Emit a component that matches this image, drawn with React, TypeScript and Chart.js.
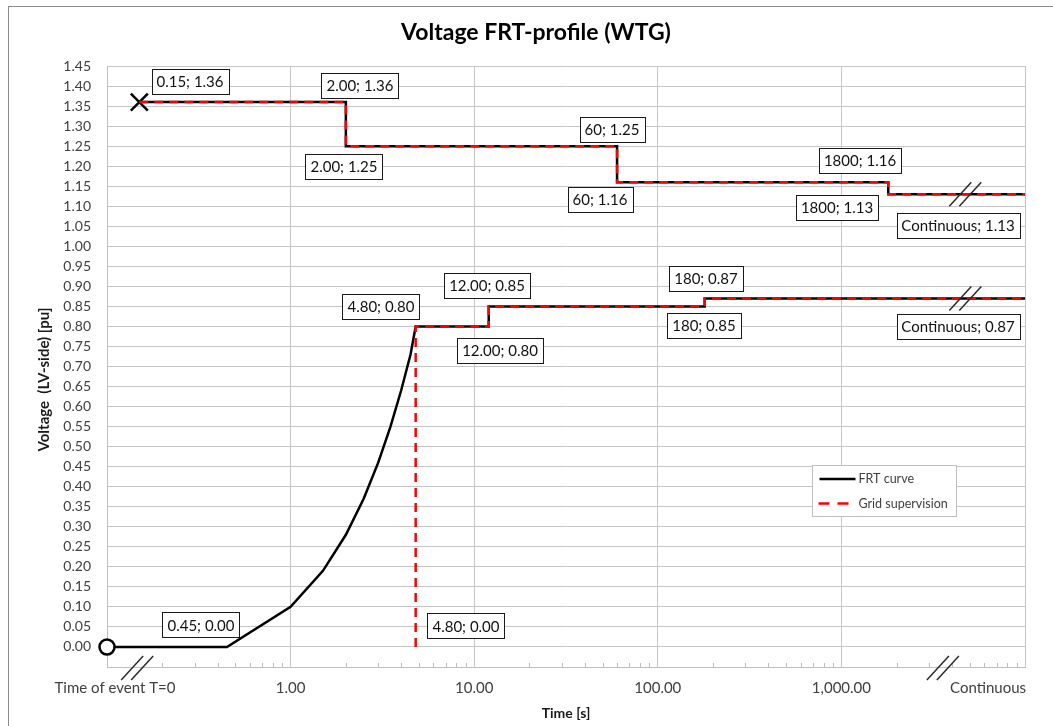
import React, { useEffect, useRef } from "react";
import { Chart, registerables } from "chart.js";

Chart.register(...registerables);

// ---------- text ----------
const chartTitle = "Voltage FRT-profile (WTG)";
const xAxisTitle = "Time [s]";
const yAxisTitle = "Voltage  (LV-side) [pu]";
const seriesNames = ["FRT curve", "Grid supervision"];

// ---------- data ----------
// FRT curve, upper (over-voltage) profile
const upperTimes = [0.15, 2.0, 2.0, 60, 60, 1800, 1800, 10000];
const upperVolts = [1.36, 1.36, 1.25, 1.25, 1.16, 1.16, 1.13, 1.13];

// FRT curve, lower (under-voltage) profile
const lowerTimes = [0.1, 0.45, 1.0, 1.5, 2.0, 2.5, 3.0, 3.5, 4.0, 4.5, 4.8, 12, 12, 180, 180, 10000];
const lowerVolts = [0.0, 0.0, 0.1, 0.19, 0.28, 0.37, 0.46, 0.55, 0.64, 0.73, 0.8, 0.8, 0.85, 0.85, 0.87, 0.87];

// Grid supervision, lower profile
const gridLowerTimes = [4.8, 4.8, 12, 12, 180, 180, 10000];
const gridLowerVolts = [0.0, 0.8, 0.8, 0.85, 0.85, 0.87, 0.87];

// Grid supervision, upper profile
const gridUpperTimes = [0.15, 2.0, 2.0, 60, 60, 1800, 1800, 10000];
const gridUpperVolts = [1.36, 1.36, 1.25, 1.25, 1.16, 1.16, 1.13, 1.13];

// axis ticks
const xTickValues = [0.1, 1, 10, 100, 1000, 10000];
const xTickLabels = ["Time of event T=0", "1.00", "10.00", "100.00", "1,000.00", "Continuous"];
const yMin = -0.05;
const yMax = 1.45;
const yStep = 0.05;

// point annotations
const pointLabelTexts = [
  "0.15; 1.36", "2.00; 1.36", "2.00; 1.25", "60; 1.25", "60; 1.16",
  "1800; 1.16", "1800; 1.13", "Continuous; 1.13",
  "4.80; 0.80", "12.00; 0.85", "12.00; 0.80", "180; 0.87", "180; 0.85",
  "Continuous; 0.87", "0.45; 0.00", "4.80; 0.00",
];
const pointLabelTimes = [0.15, 2.0, 2.0, 60, 60, 1800, 1800, 10000, 4.8, 12, 12, 180, 180, 10000, 0.45, 4.8];
const pointLabelVolts = [1.36, 1.36, 1.25, 1.25, 1.16, 1.16, 1.13, 1.13, 0.8, 0.85, 0.8, 0.87, 0.85, 0.87, 0.0, 0.0];

// axis-break marks (time values; volts null = on the time axis)
const breakTimes = [0.146, 3570, 4730, 4730];
const breakVolts = [null, null, 1.13, 0.87];

// ---------- layout / style (not data) ----------
const labelOffsets: [number, number][] = [
  [51, -21], [14, -17], [-2, 20], [-5, -17], [-17, 17],
  [-28, -22], [-51, 13], [-67, 31],
  [-35, -20], [-2, -21], [11, 24], [1, -20], [-1, 19],
  [-67, 28], [-26, -22], [50, -21],
];
const FONT = "Lato, 'Open Sans', sans-serif";
const GRID = "#c6c6c6";
const TEXT = "#404040";

const decorPlugin = {
  id: "decor",
  beforeDraw(chart: any) {
    const ctx = chart.ctx;
    ctx.save();
    ctx.fillStyle = "#ffffff";
    ctx.fillRect(0, 0, chart.width, chart.height);
    ctx.strokeStyle = "#8c8c8c";
    ctx.lineWidth = 1;
    ctx.strokeRect(8.5, 6.5, chart.width + 40, chart.height + 40);
    // chart title
    ctx.fillStyle = "#000000";
    ctx.font = `bold 23px ${FONT}`;
    ctx.textAlign = "center";
    ctx.textBaseline = "middle";
    ctx.fillText(chartTitle, 536, 33);
    ctx.restore();
  },
  afterDatasetsDraw(chart: any) {
    const ctx = chart.ctx;
    const xs = chart.scales.x;
    const ys = chart.scales.y;
    ctx.save();
    ctx.font = `15px ${FONT}`;
    ctx.textAlign = "center";
    ctx.textBaseline = "middle";
    pointLabelTexts.forEach((t, i) => {
      const px = xs.getPixelForValue(pointLabelTimes[i]) + labelOffsets[i][0];
      const py = ys.getPixelForValue(pointLabelVolts[i]) + labelOffsets[i][1];
      const w = Math.round(ctx.measureText(t).width + 10);
      const h = 25;
      const bx = Math.round(px - w / 2) + 0.5;
      const by = Math.round(py - h / 2) + 0.5;
      ctx.fillStyle = "#ffffff";
      ctx.fillRect(bx, by, w, h);
      ctx.strokeStyle = "#1a1a1a";
      ctx.lineWidth = 1;
      ctx.strokeRect(bx, by, w, h);
      ctx.fillStyle = "#111111";
      ctx.fillText(t, Math.round(px), Math.round(py) + 1);
    });
    ctx.restore();
  },
  afterDraw(chart: any) {
    const ctx = chart.ctx;
    const xs = chart.scales.x;
    const ys = chart.scales.y;
    const area = chart.chartArea;
    ctx.save();

    // minor ticks on time axis
    ctx.strokeStyle = "#bfbfbf";
    ctx.lineWidth = 1;
    for (let d = 0; d < xTickValues.length - 1; d++) {
      for (let k = 2; k <= 9; k++) {
        const x = Math.round(xs.getPixelForValue(xTickValues[d] * k)) + 0.5;
        ctx.beginPath();
        ctx.moveTo(x, area.bottom);
        ctx.lineTo(x, area.bottom - 4);
        ctx.stroke();
      }
    }

    // x tick labels
    ctx.fillStyle = TEXT;
    ctx.font = `15px ${FONT}`;
    ctx.textBaseline = "middle";
    xTickValues.forEach((v, i) => {
      const x = xs.getPixelForValue(v);
      const y = area.bottom + 21;
      if (i === 0) {
        ctx.textAlign = "center";
        ctx.fillText(xTickLabels[i], x + 8, y);
      } else if (i === xTickValues.length - 1) {
        ctx.textAlign = "right";
        ctx.fillText(xTickLabels[i], x + 1, y);
      } else {
        ctx.textAlign = "center";
        ctx.fillText(xTickLabels[i], x, y);
      }
    });

    // x axis title
    ctx.fillStyle = "#1a1a1a";
    ctx.font = `bold 14px ${FONT}`;
    ctx.textAlign = "center";
    ctx.fillText(xAxisTitle, (area.left + area.right) / 2, area.bottom + 46);

    // y axis title
    ctx.save();
    ctx.translate(44, (area.top + area.bottom) / 2 + 13);
    ctx.rotate(-Math.PI / 2);
    ctx.font = `bold 15px ${FONT}`;
    ctx.textAlign = "center";
    ctx.textBaseline = "middle";
    ctx.fillText(yAxisTitle, 0, 0);
    ctx.restore();

    // break marks
    ctx.strokeStyle = "#2a2a2a";
    ctx.lineWidth = 1.5;
    breakTimes.forEach((t, i) => {
      const cx = xs.getPixelForValue(t);
      const v = breakVolts[i];
      const cy = v === null ? area.bottom + 1 : ys.getPixelForValue(v);
      [-5, 5].forEach((dx) => {
        ctx.beginPath();
        ctx.moveTo(cx + dx - 11, cy + 12);
        ctx.lineTo(cx + dx + 11, cy - 12);
        ctx.stroke();
      });
    });

    // legend
    const lx = area.left + 705.5;
    const ly = area.top + 399.5;
    ctx.fillStyle = "#ffffff";
    ctx.fillRect(lx, ly, 144, 51);
    ctx.strokeStyle = "#bfbfbf";
    ctx.lineWidth = 1;
    ctx.strokeRect(lx, ly, 144, 51);
    ctx.lineWidth = 2.5;
    ctx.strokeStyle = "#000000";
    ctx.beginPath();
    ctx.moveTo(lx + 7, ly + 13.5);
    ctx.lineTo(lx + 43, ly + 13.5);
    ctx.stroke();
    ctx.strokeStyle = "#ff0000";
    ctx.setLineDash([11, 8]);
    ctx.beginPath();
    ctx.moveTo(lx + 6, ly + 38);
    ctx.lineTo(lx + 43, ly + 38);
    ctx.stroke();
    ctx.setLineDash([]);
    ctx.fillStyle = TEXT;
    ctx.font = `12.5px ${FONT}`;
    ctx.textAlign = "left";
    ctx.textBaseline = "middle";
    ctx.fillText(seriesNames[0], lx + 46, ly + 13);
    ctx.fillText(seriesNames[1], lx + 46, ly + 38);

    ctx.restore();
  },
};

const toPoints = (xs: number[], ys: number[]) => xs.map((x, i) => ({ x, y: ys[i] }));

export default function App() {
  const canvasRef = useRef<HTMLCanvasElement | null>(null);

  useEffect(() => {
    const canvas = canvasRef.current;
    if (!canvas) return;
    const chart = new Chart(canvas, {
      type: "scatter",
      data: {
        datasets: [
          {
            label: seriesNames[0],
            data: toPoints(lowerTimes, lowerVolts),
            showLine: true,
            clip: false,
            borderColor: "#000000",
            borderWidth: 2.5,
            pointRadius: (c: any) => (c.dataIndex === 0 ? 7.5 : 0),
            pointHoverRadius: 0,
            pointStyle: "circle",
            pointBackgroundColor: "#ffffff",
            pointBorderColor: "#000000",
            pointBorderWidth: 2.5,
            order: 2,
          },
          {
            label: seriesNames[0],
            data: toPoints(upperTimes, upperVolts),
            showLine: true,
            clip: false,
            borderColor: "#000000",
            borderWidth: 2.5,
            pointRadius: (c: any) => (c.dataIndex === 0 ? 12 : 0),
            pointHoverRadius: 0,
            pointStyle: "crossRot",
            pointBackgroundColor: "#000000",
            pointBorderColor: "#000000",
            pointBorderWidth: 2.5,
            order: 2,
          },
          {
            label: seriesNames[1],
            data: toPoints(gridLowerTimes, gridLowerVolts),
            showLine: true,
            borderColor: "#ff0000",
            borderWidth: 2.5,
            borderDash: [9, 6],
            pointRadius: 0,
            order: 1,
          },
          {
            label: seriesNames[1],
            data: toPoints(gridUpperTimes, gridUpperVolts),
            showLine: true,
            borderColor: "#ff0000",
            borderWidth: 2.5,
            borderDash: [9, 6],
            pointRadius: 0,
            order: 1,
          },
        ],
      },
      options: {
        responsive: false,
        animation: false,
        devicePixelRatio: 1,
        events: [],
        layout: { padding: { left: 0, right: 28, top: 66, bottom: 0 } },
        plugins: {
          legend: { display: false },
          tooltip: { enabled: false },
          title: { display: false },
        },
        scales: {
          x: {
            type: "logarithmic",
            min: xTickValues[0],
            max: xTickValues[xTickValues.length - 1],
            afterBuildTicks: (s: any) => {
              s.ticks = xTickValues.map((v) => ({ value: v }));
            },
            afterFit: (s: any) => {
              s.height = 59;
            },
            ticks: { display: false },
            grid: { color: GRID, lineWidth: 1, drawTicks: false },
            border: { display: true, color: "#bfbfbf", width: 1 },
          },
          y: {
            type: "linear",
            min: yMin,
            max: yMax,
            afterFit: (s: any) => {
              s.width = 107;
            },
            ticks: {
              stepSize: yStep,
              maxTicksLimit: 60,
              autoSkip: false,
              padding: 16,
              color: TEXT,
              font: { family: FONT, size: 14 },
              callback: (v: any) => (Number(v) < -0.001 ? "" : Number(v).toFixed(2)),
            },
            grid: { color: GRID, lineWidth: 1, drawTicks: false },
            border: { display: true, color: "#bfbfbf", width: 1 },
          },
        },
      },
      plugins: [decorPlugin],
    } as any);
    return () => chart.destroy();
  }, []);

  return (
    <div style={{ position: "absolute", left: 0, top: 0, width: 1053, height: 726 }}>
      <canvas ref={canvasRef} width={1053} height={726} style={{ display: "block", width: 1053, height: 726 }} />
    </div>
  );
}
